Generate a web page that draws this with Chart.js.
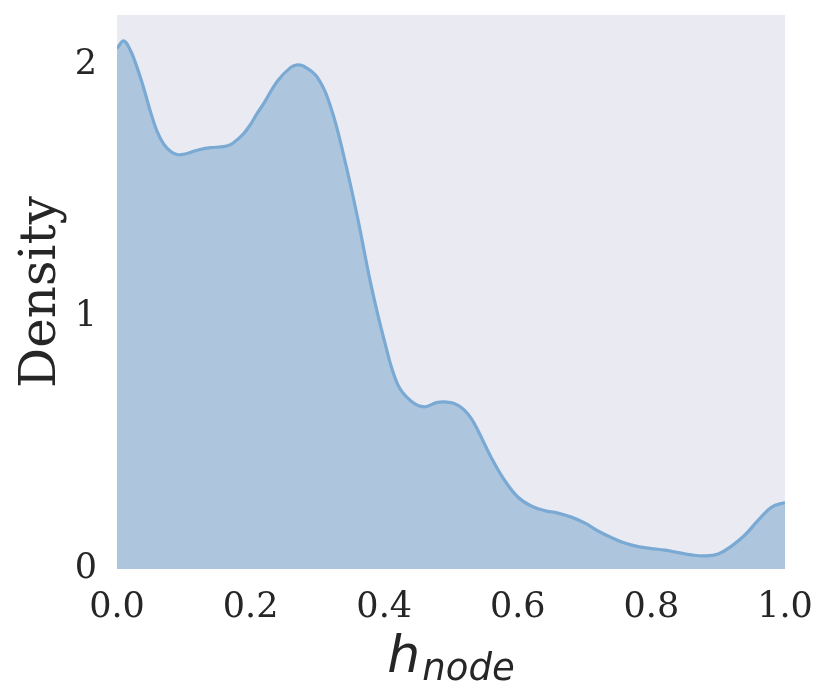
<!DOCTYPE html>
<html>
<head>
<meta charset="utf-8">
<script src="https://cdn.jsdelivr.net/npm/chart.js@4.4.0/dist/chart.umd.min.js"></script>
<style>
  html, body { margin: 0; padding: 0; background: #ffffff; }
  #wrap { width: 830px; height: 697px; }
</style>
</head>
<body>
<div id="wrap"><canvas id="c" width="830" height="697"></canvas></div>
<script>
// h_node values (x) and KDE density (y)
const hNode = [0.00, 0.01, 0.02, 0.03, 0.04, 0.05, 0.06, 0.07, 0.08, 0.09, 0.10,
  0.12, 0.14, 0.16, 0.17, 0.18, 0.19, 0.20, 0.21, 0.22, 0.24, 0.26, 0.27, 0.28, 0.30, 0.32, 0.34,
  0.36, 0.38, 0.40, 0.42, 0.44, 0.46, 0.48, 0.50, 0.51, 0.52, 0.53, 0.54, 0.56, 0.58, 0.60,
  0.62, 0.64, 0.66, 0.68, 0.70, 0.72, 0.74, 0.76, 0.78, 0.80, 0.82, 0.84, 0.86,
  0.88, 0.90, 0.92, 0.94, 0.96, 0.98, 1.00];
const density = [2.067, 2.097, 2.060, 1.992, 1.909, 1.817, 1.738, 1.687, 1.659, 1.646, 1.647,
  1.663, 1.673, 1.677, 1.685, 1.705, 1.730, 1.766, 1.810, 1.850, 1.937, 1.992, 2.002, 1.996, 1.952, 1.834, 1.635,
  1.397, 1.131, 0.909, 0.734, 0.667, 0.644, 0.662, 0.661, 0.651, 0.631, 0.599, 0.552, 0.444, 0.353, 0.286,
  0.250, 0.232, 0.222, 0.206, 0.183, 0.151, 0.125, 0.103, 0.089, 0.081, 0.075, 0.065, 0.056,
  0.052, 0.060, 0.091, 0.135, 0.194, 0.246, 0.264];
const xTicks = [0.0, 0.2, 0.4, 0.6, 0.8, 1.0];
const yTicks = [0, 1, 2];
const yLabel = "Density";
const xLabelMain = "h";
const xLabelSub = "node";

const points = hNode.map((x, i) => ({ x: x, y: density[i] }));
const textColor = '#262626';

const bgPlugin = {
  id: 'bg',
  beforeDraw(chart) {
    const a = chart.chartArea, ctx = chart.ctx;
    ctx.save();
    ctx.fillStyle = '#EAEAF2';
    ctx.fillRect(a.left, a.top, a.right - a.left, a.bottom - a.top);
    ctx.restore();
  }
};

const xLabelPlugin = {
  id: 'xlabel',
  afterDraw(chart) {
    const ctx = chart.ctx, a = chart.chartArea;
    ctx.save();
    ctx.fillStyle = textColor;
    ctx.textBaseline = 'alphabetic';
    ctx.textAlign = 'left';
    const fMain = 'italic 52px "DejaVu Sans"';
    const fSub = 'italic 37px "DejaVu Sans"';
    ctx.font = fMain;
    const wMain = ctx.measureText(xLabelMain).width;
    ctx.font = fSub;
    const wSub = ctx.measureText(xLabelSub).width;
    const total = wMain + wSub + 2;
    const cx = (a.left + a.right) / 2;
    const x0 = cx - total / 2;
    ctx.font = fMain;
    ctx.fillText(xLabelMain, x0, 672);
    ctx.font = fSub;
    ctx.fillText(xLabelSub, x0 + wMain + 2, 680);
    ctx.restore();
  }
};

new Chart(document.getElementById('c'), {
  type: 'line',
  data: {
    datasets: [{
      data: points,
      borderColor: '#7aaad4',
      borderWidth: 3.2,
      backgroundColor: '#adc6de',
      fill: 'origin',
      pointRadius: 0,
      tension: 0.4
    }]
  },
  options: {
    responsive: false,
    animation: false,
    layout: { padding: { left: 0, right: 45, top: 15, bottom: 0 } },
    plugins: { legend: { display: false }, tooltip: { enabled: false } },
    scales: {
      x: {
        type: 'linear',
        min: 0, max: 1,
        afterBuildTicks(axis) { axis.ticks = xTicks.map(v => ({ value: v })); },
        afterFit(scale) { scale.height = 128; scale.paddingLeft = 0; scale.paddingRight = 0; },
        grid: { display: false, drawTicks: false },
        border: { display: false },
        ticks: {
          padding: 18,
          color: textColor,
          font: { family: '"DejaVu Serif"', size: 35 },
          maxRotation: 0,
          callback: v => Number(v).toFixed(1)
        }
      },
      y: {
        min: 0, max: 2.2,
        afterBuildTicks(axis) { axis.ticks = yTicks.map(v => ({ value: v })); },
        afterFit(scale) { scale.width = 117; scale.paddingTop = 0; scale.paddingBottom = 0; },
        grid: { display: false, drawTicks: false },
        border: { display: false },
        ticks: {
          padding: 20,
          color: textColor,
          font: { family: '"DejaVu Serif"', size: 35 },
          callback: v => String(v)
        },
        title: {
          display: true,
          text: yLabel,
          color: textColor,
          font: { family: '"DejaVu Serif"', size: 50 },
          padding: { top: 12, bottom: 0 }
        }
      }
    }
  },
  plugins: [bgPlugin, xLabelPlugin]
});
</script>
</body>
</html>
